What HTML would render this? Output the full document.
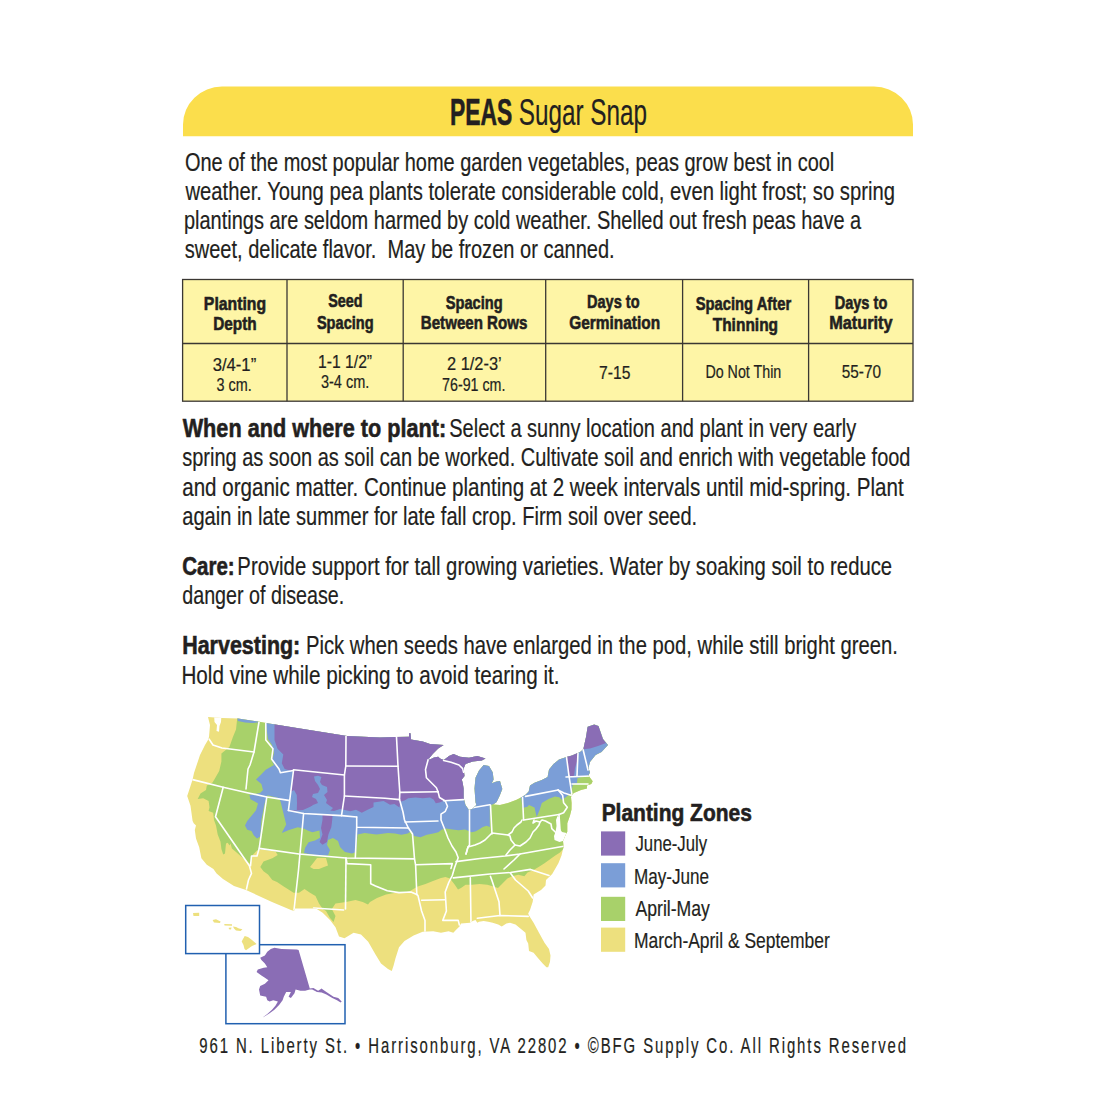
<!DOCTYPE html>
<html><head><meta charset="utf-8"><title>Peas Sugar Snap</title>
<style>html,body{margin:0;padding:0;background:#fff;width:1100px;height:1100px;overflow:hidden}svg{display:block}text{font-family:"Liberation Sans",sans-serif}</style>
</head><body>
<svg width="1100" height="1100" viewBox="0 0 1100 1100" font-family="Liberation Sans" fill="#231F20">
<rect width="1100" height="1100" fill="#fff"/>
<path d="M183,136.3 V124.5 A39,38 0 0 1 222,86.5 H874 A39,38 0 0 1 913,124.5 V136.3 Z" fill="#FBDE4C"/>
<rect x="182.6" y="279.5" width="730.4" height="121.69999999999999" fill="#FEF5A6" stroke="#3A3733" stroke-width="1.3"/>
<line x1="182.6" y1="343.5" x2="913.0" y2="343.5" stroke="#3A3733" stroke-width="1.3"/>
<line x1="287.0" y1="279.5" x2="287.0" y2="401.2" stroke="#3A3733" stroke-width="1.3"/>
<line x1="403.2" y1="279.5" x2="403.2" y2="401.2" stroke="#3A3733" stroke-width="1.3"/>
<line x1="545.7" y1="279.5" x2="545.7" y2="401.2" stroke="#3A3733" stroke-width="1.3"/>
<line x1="682.6" y1="279.5" x2="682.6" y2="401.2" stroke="#3A3733" stroke-width="1.3"/>
<line x1="808.6" y1="279.5" x2="808.6" y2="401.2" stroke="#3A3733" stroke-width="1.3"/>
<clipPath id="us"><polygon points="208.0,717.0 222.0,718.0 238.0,718.6 258.0,721.5 266.0,723.0 300.0,728.5 347.0,736.0 380.0,737.5 396.0,737.0 409.0,736.8 409.0,733.2 410.5,733.2 411.0,739.5 422.7,741.4 430.0,744.0 443.6,745.0 438.2,748.6 432.7,754.0 428.2,759.5 430.0,759.5 434.0,757.5 438.2,756.8 440.0,758.5 443.6,760.0 444.5,759.5 449.0,756.0 453.6,754.0 460.0,756.8 469.0,757.7 477.3,756.0 485.5,758.6 481.8,760.5 472.7,761.4 465.5,764.0 463.6,768.6 464.5,776.0 461.8,779.5 462.7,783.0 463.6,788.6 463.6,797.7 465.5,805.0 469.0,810.0 472.0,809.0 476.4,805.0 475.5,802.3 474.5,788.6 475.5,777.7 479.0,770.5 483.6,765.0 489.0,766.0 492.7,772.3 493.6,779.5 491.8,783.2 496.4,781.4 500.0,781.0 502.3,789.0 499.8,795.6 496.5,802.2 493.3,804.6 500.0,805.0 508.0,803.0 516.0,800.0 521.5,797.3 525.8,794.4 528.7,791.5 530.0,785.6 534.5,782.7 541.8,780.0 547.6,777.0 549.0,769.6 553.5,764.0 559.0,759.5 566.5,757.0 572.0,755.5 580.0,752.0 583.3,749.3 586.2,736.2 587.6,726.7 594.2,724.5 598.5,726.0 603.0,739.0 608.0,745.0 601.5,752.0 595.6,755.0 590.0,762.0 588.4,768.0 590.0,772.5 588.4,775.5 592.7,781.3 591.3,784.0 587.0,785.6 587.0,788.5 581.0,790.0 573.8,793.0 572.4,794.4 571.0,797.0 571.6,803.0 571.5,809.5 570.0,815.5 567.3,823.2 567.3,831.8 566.0,834.0 563.0,841.0 563.6,846.7 561.5,855.5 558.4,863.2 552.2,874.0 546.0,880.0 545.5,885.5 541.0,890.0 533.6,894.5 532.7,901.8 530.0,910.0 528.2,913.6 529.0,915.5 533.6,922.7 539.0,932.7 544.5,942.7 549.0,949.0 550.5,955.5 550.0,961.8 548.2,967.3 546.4,967.3 542.7,963.6 537.3,957.3 533.6,952.7 529.0,951.0 528.2,943.6 526.4,940.0 525.5,932.7 521.0,929.0 515.5,924.5 510.0,922.7 506.4,923.6 501.8,926.4 498.2,924.5 492.7,922.7 488.2,921.8 483.6,921.0 479.0,921.8 477.3,922.7 475.5,920.0 472.7,921.0 470.0,922.7 461.0,923.5 459.5,926.6 456.4,929.6 453.3,932.7 448.6,931.2 441.0,932.7 433.2,931.2 422.7,931.8 413.6,935.5 404.5,941.0 399.0,947.3 395.5,958.2 393.6,965.5 391.8,971.0 388.0,969.0 381.0,963.6 375.5,954.5 368.2,941.8 361.0,934.5 353.6,932.7 344.5,938.2 339.0,936.4 335.5,927.3 330.0,920.0 322.7,912.7 316.0,908.5 295.0,908.5 294.0,911.0 291.0,910.0 272.0,902.0 246.0,890.0 234.0,886.0 223.0,879.0 216.6,873.4 213.4,869.0 206.8,864.7 201.4,858.2 199.2,847.3 196.0,838.5 194.8,830.0 196.0,825.5 193.7,823.3 192.6,821.0 190.5,805.8 187.2,796.0 188.3,792.7 192.6,779.6 194.0,773.0 200.0,755.0 205.0,745.0 208.0,740.0 209.0,737.0 210.0,725.0"/></clipPath>
<polygon points="208.0,717.0 222.0,718.0 238.0,718.6 258.0,721.5 266.0,723.0 300.0,728.5 347.0,736.0 380.0,737.5 396.0,737.0 409.0,736.8 409.0,733.2 410.5,733.2 411.0,739.5 422.7,741.4 430.0,744.0 443.6,745.0 438.2,748.6 432.7,754.0 428.2,759.5 430.0,759.5 434.0,757.5 438.2,756.8 440.0,758.5 443.6,760.0 444.5,759.5 449.0,756.0 453.6,754.0 460.0,756.8 469.0,757.7 477.3,756.0 485.5,758.6 481.8,760.5 472.7,761.4 465.5,764.0 463.6,768.6 464.5,776.0 461.8,779.5 462.7,783.0 463.6,788.6 463.6,797.7 465.5,805.0 469.0,810.0 472.0,809.0 476.4,805.0 475.5,802.3 474.5,788.6 475.5,777.7 479.0,770.5 483.6,765.0 489.0,766.0 492.7,772.3 493.6,779.5 491.8,783.2 496.4,781.4 500.0,781.0 502.3,789.0 499.8,795.6 496.5,802.2 493.3,804.6 500.0,805.0 508.0,803.0 516.0,800.0 521.5,797.3 525.8,794.4 528.7,791.5 530.0,785.6 534.5,782.7 541.8,780.0 547.6,777.0 549.0,769.6 553.5,764.0 559.0,759.5 566.5,757.0 572.0,755.5 580.0,752.0 583.3,749.3 586.2,736.2 587.6,726.7 594.2,724.5 598.5,726.0 603.0,739.0 608.0,745.0 601.5,752.0 595.6,755.0 590.0,762.0 588.4,768.0 590.0,772.5 588.4,775.5 592.7,781.3 591.3,784.0 587.0,785.6 587.0,788.5 581.0,790.0 573.8,793.0 572.4,794.4 571.0,797.0 571.6,803.0 571.5,809.5 570.0,815.5 567.3,823.2 567.3,831.8 566.0,834.0 563.0,841.0 563.6,846.7 561.5,855.5 558.4,863.2 552.2,874.0 546.0,880.0 545.5,885.5 541.0,890.0 533.6,894.5 532.7,901.8 530.0,910.0 528.2,913.6 529.0,915.5 533.6,922.7 539.0,932.7 544.5,942.7 549.0,949.0 550.5,955.5 550.0,961.8 548.2,967.3 546.4,967.3 542.7,963.6 537.3,957.3 533.6,952.7 529.0,951.0 528.2,943.6 526.4,940.0 525.5,932.7 521.0,929.0 515.5,924.5 510.0,922.7 506.4,923.6 501.8,926.4 498.2,924.5 492.7,922.7 488.2,921.8 483.6,921.0 479.0,921.8 477.3,922.7 475.5,920.0 472.7,921.0 470.0,922.7 461.0,923.5 459.5,926.6 456.4,929.6 453.3,932.7 448.6,931.2 441.0,932.7 433.2,931.2 422.7,931.8 413.6,935.5 404.5,941.0 399.0,947.3 395.5,958.2 393.6,965.5 391.8,971.0 388.0,969.0 381.0,963.6 375.5,954.5 368.2,941.8 361.0,934.5 353.6,932.7 344.5,938.2 339.0,936.4 335.5,927.3 330.0,920.0 322.7,912.7 316.0,908.5 295.0,908.5 294.0,911.0 291.0,910.0 272.0,902.0 246.0,890.0 234.0,886.0 223.0,879.0 216.6,873.4 213.4,869.0 206.8,864.7 201.4,858.2 199.2,847.3 196.0,838.5 194.8,830.0 196.0,825.5 193.7,823.3 192.6,821.0 190.5,805.8 187.2,796.0 188.3,792.7 192.6,779.6 194.0,773.0 200.0,755.0 205.0,745.0 208.0,740.0 209.0,737.0 210.0,725.0" fill="#EDE07E"/>
<g clip-path="url(#us)">
<polygon points="237.4,700.0 237.4,716.5 236.0,729.5 233.0,736.8 229.4,747.0 221.4,753.5 221.4,761.5 219.2,771.0 215.5,777.5 212.6,782.6 208.3,784.8 206.8,785.5 206.0,790.0 200.5,793.6 197.7,799.0 203.2,798.2 208.6,801.0 209.5,807.3 208.6,811.0 213.2,812.7 214.0,820.0 216.0,825.5 217.7,834.5 220.5,841.8 221.4,849.0 223.2,854.5 225.0,853.6 226.0,843.6 227.7,842.7 229.5,845.5 230.5,843.6 231.9,848.4 249.4,863.6 250.5,863.6 252.6,855.0 257.0,850.5 261.4,849.5 268.0,850.5 275.5,851.6 277.7,855.0 272.3,858.2 263.5,861.5 260.3,867.0 263.5,871.3 268.0,874.5 272.3,880.0 277.0,882.0 284.5,887.0 293.6,892.7 299.0,892.7 304.5,889.0 310.0,892.7 315.5,896.0 319.0,903.6 322.7,909.0 326.0,911.0 330.0,918.0 333.6,922.0 335.5,916.0 331.8,909.0 335.5,903.6 341.0,902.7 346.0,902.0 355.5,900.0 362.7,902.0 368.0,904.5 370.0,902.0 377.0,898.0 386.0,894.5 395.5,892.7 404.5,892.7 410.0,891.0 417.7,886.4 425.5,884.0 433.0,881.0 441.0,877.9 445.5,877.0 450.0,878.6 454.8,884.8 458.0,889.5 461.0,888.0 465.6,884.8 471.8,884.8 479.6,884.0 487.3,884.8 493.5,886.4 498.0,888.0 502.7,883.3 507.4,878.6 512.0,876.3 518.2,874.8 524.4,876.3 527.5,872.5 533.6,870.0 539.8,866.3 544.5,863.2 549.0,860.0 555.3,855.5 560.0,852.4 563.0,849.3 566.0,847.7 580.0,845.0 640.0,845.0 640.0,700.0" fill="#A8D16A"/>
<polygon points="310.0,867.0 314.0,862.0 317.0,858.0 326.0,858.0 328.0,865.5 324.0,867.0 319.0,869.0 313.6,869.0" fill="#EDE07E"/>
<polygon points="266.0,700.0 266.0,725.0 268.0,739.0 272.0,745.0 274.0,753.0 272.0,761.0 274.0,765.0 265.7,769.8 261.4,774.2 256.0,779.6 261.4,784.0 263.0,790.0 260.0,793.0 249.4,795.0 250.5,799.3 254.8,801.5 258.0,803.6 256.0,810.2 252.6,814.5 247.2,821.0 245.0,825.5 247.2,829.8 251.5,831.0 253.7,835.3 257.0,838.5 260.3,836.4 261.4,820.0 264.6,803.6 267.3,795.3 279.0,798.2 280.4,801.0 283.3,812.7 286.2,824.4 283.3,830.0 281.8,833.0 289.0,830.0 297.8,827.3 303.6,828.6 307.7,830.5 312.3,832.3 319.5,830.5 320.0,837.7 315.0,840.5 308.6,842.3 305.0,848.0 304.0,853.0 315.0,855.0 328.0,855.5 330.0,850.0 327.0,845.0 328.0,840.0 333.0,838.0 338.0,841.0 340.0,847.0 345.0,852.0 352.0,853.5 356.0,852.0 357.0,842.0 357.5,834.5 364.7,833.0 376.4,834.5 388.0,833.0 395.0,833.5 401.4,834.7 407.7,833.5 411.5,831.0 414.0,836.0 420.5,837.3 426.8,834.7 433.2,833.5 438.3,832.2 442.0,829.6 446.0,828.4 452.3,829.6 458.6,830.3 465.0,829.6 468.8,831.0 471.4,832.2 475.2,831.5 479.0,829.6 482.8,827.0 486.6,825.8 489.8,827.0 489.8,805.5 496.0,803.0 505.0,795.0 518.0,794.0 521.5,799.0 522.3,808.0 527.4,806.7 529.0,805.0 534.5,807.5 536.7,817.0 539.6,810.0 541.8,803.0 549.0,798.7 555.0,796.5 559.3,797.3 562.0,800.0 566.0,797.0 571.0,793.0 573.0,784.0 577.0,783.0 577.5,778.0 590.0,775.0 640.0,775.0 640.0,700.0" fill="#7B9ED7"/>
<polygon points="236.0,712.0 238.0,721.0 245.0,722.5 252.0,723.0 258.0,722.5 258.0,712.0" fill="#7B9ED7"/>
<polygon points="274.5,700.0 274.5,740.0 277.5,748.7 283.3,754.5 281.8,763.3 284.7,769.0 292.0,771.3 293.5,771.0 291.0,790.0 289.0,805.0 290.0,811.0 303.0,810.0 312.0,806.0 318.0,808.0 326.0,810.0 334.0,811.0 340.0,809.0 343.6,809.8 350.2,811.3 356.0,809.8 361.8,812.7 367.6,809.8 373.5,807.0 373.5,802.5 383.6,801.0 390.0,804.7 394.4,804.0 399.5,807.6 400.2,801.8 404.5,800.4 408.2,798.2 415.5,797.5 422.7,798.2 430.0,797.5 433.6,799.6 435.8,803.3 439.5,802.5 443.8,800.7 463.7,799.6 468.0,790.0 468.0,768.0 478.0,763.5 495.0,761.0 495.0,700.0" fill="#8A6DB5"/>
<polygon points="290.5,792.0 294.0,790.0 296.8,795.0 297.0,803.0 296.8,810.0 288.0,810.5 289.5,800.0" fill="#7B9ED7"/>
<polygon points="314.0,776.5 318.0,775.8 321.4,777.0 320.0,782.0 322.0,785.0 327.0,787.0 327.5,792.0 324.0,795.0 327.0,800.0 326.0,803.0 330.0,806.0 333.0,808.0 330.0,811.0 325.0,810.0 320.0,813.0 312.0,812.0 308.0,809.0 313.0,805.0 318.0,803.0 316.0,799.0 312.0,797.0 313.0,794.0 318.0,793.0 320.0,789.0 318.0,785.0 315.0,781.0" fill="#7B9ED7"/>
<polygon points="322.5,814.0 332.7,814.0 332.0,822.0 331.3,827.3 328.4,834.5 327.0,842.0 322.5,844.7 319.6,842.0 322.5,834.5 321.0,828.0 322.5,820.0" fill="#8A6DB5"/>
<polygon points="566.5,756.0 571.0,754.5 578.0,752.4 577.5,760.0 575.0,768.0 574.0,776.0 569.0,777.0 568.0,770.0 566.5,762.0" fill="#8A6DB5"/>
<polygon points="583.0,749.3 585.0,735.0 587.6,726.7 594.2,724.5 598.5,726.0 603.0,739.0 606.0,743.0 598.0,746.0 590.0,748.5" fill="#8A6DB5"/>
<polygon points="214.0,714.0 221.5,714.0 221.0,722.0 219.5,726.0 219.0,731.7 216.5,731.0 217.0,725.0 214.5,722.0" fill="#fff"/>
<polygon points="557.5,816.0 559.5,818.0 559.0,824.0 560.0,829.0 562.0,832.0 566.5,833.0 566.0,840.0 559.5,842.0 554.5,840.0 554.0,836.0 555.5,832.0 556.5,826.0 556.0,820.0" fill="#fff"/>
<polyline points="209.0,739.0 213.0,745.0 222.0,748.0 254.0,752.0 250.0,765.0 248.0,769.0 246.0,789.0" fill="none" stroke="#fff" stroke-width="1.6" stroke-linejoin="round" stroke-linecap="round"/>
<polyline points="259.0,722.0 256.0,740.0 254.0,752.0" fill="none" stroke="#fff" stroke-width="1.6" stroke-linejoin="round" stroke-linecap="round"/>
<polyline points="265.8,723.0 265.8,740.0 273.0,748.7 271.6,759.0 279.0,769.0 280.4,772.7 293.5,770.5" fill="none" stroke="#fff" stroke-width="1.6" stroke-linejoin="round" stroke-linecap="round"/>
<polyline points="293.5,770.5 288.4,810.5" fill="none" stroke="#fff" stroke-width="1.6" stroke-linejoin="round" stroke-linecap="round"/>
<polyline points="192.6,779.6 223.2,787.3 245.0,792.2 266.8,797.0 288.6,800.4" fill="none" stroke="#fff" stroke-width="1.6" stroke-linejoin="round" stroke-linecap="round"/>
<polyline points="223.2,787.3 215.5,816.7 249.4,865.8 251.5,873.4 248.5,880.0 246.5,889.0" fill="none" stroke="#fff" stroke-width="1.6" stroke-linejoin="round" stroke-linecap="round"/>
<polyline points="266.8,797.0 259.2,848.4 257.0,856.0 251.5,856.0 250.5,865.8" fill="none" stroke="#fff" stroke-width="1.6" stroke-linejoin="round" stroke-linecap="round"/>
<polyline points="259.2,848.4 299.0,854.0 346.0,858.0 414.5,858.9" fill="none" stroke="#fff" stroke-width="1.6" stroke-linejoin="round" stroke-linecap="round"/>
<polyline points="303.6,813.5 298.5,870.0 294.0,910.0" fill="none" stroke="#fff" stroke-width="1.6" stroke-linejoin="round" stroke-linecap="round"/>
<polyline points="288.4,810.5 303.6,813.5 341.5,815.6 356.7,817.0" fill="none" stroke="#fff" stroke-width="1.6" stroke-linejoin="round" stroke-linecap="round"/>
<polyline points="293.5,769.8 344.4,775.0" fill="none" stroke="#fff" stroke-width="1.6" stroke-linejoin="round" stroke-linecap="round"/>
<polyline points="346.0,736.0 345.8,766.0 344.4,775.0 344.4,796.0 341.5,815.6" fill="none" stroke="#fff" stroke-width="1.6" stroke-linejoin="round" stroke-linecap="round"/>
<polyline points="345.8,766.0 398.0,766.3" fill="none" stroke="#fff" stroke-width="1.6" stroke-linejoin="round" stroke-linecap="round"/>
<polyline points="344.4,796.0 385.0,798.2 399.5,799.6" fill="none" stroke="#fff" stroke-width="1.6" stroke-linejoin="round" stroke-linecap="round"/>
<polyline points="396.5,737.0 398.0,766.0 399.8,792.4" fill="none" stroke="#fff" stroke-width="1.6" stroke-linejoin="round" stroke-linecap="round"/>
<polyline points="399.8,792.4 438.0,791.8" fill="none" stroke="#fff" stroke-width="1.6" stroke-linejoin="round" stroke-linecap="round"/>
<polyline points="356.7,817.0 356.7,827.3 408.4,828.0" fill="none" stroke="#fff" stroke-width="1.6" stroke-linejoin="round" stroke-linecap="round"/>
<polyline points="356.7,827.3 355.3,858.0" fill="none" stroke="#fff" stroke-width="1.6" stroke-linejoin="round" stroke-linecap="round"/>
<polyline points="399.8,792.4 399.5,799.6 400.5,803.0 403.0,812.0 404.5,820.0 408.4,828.0" fill="none" stroke="#fff" stroke-width="1.6" stroke-linejoin="round" stroke-linecap="round"/>
<polyline points="408.4,828.0 412.5,834.0 414.5,858.9 415.6,864.8 416.8,894.4" fill="none" stroke="#fff" stroke-width="1.6" stroke-linejoin="round" stroke-linecap="round"/>
<polyline points="405.0,822.0 438.0,821.0" fill="none" stroke="#fff" stroke-width="1.6" stroke-linejoin="round" stroke-linecap="round"/>
<polyline points="438.0,791.6 439.5,797.5 445.3,801.0 447.5,806.2 445.3,811.3 441.0,814.2 441.0,820.0 445.0,830.0 448.0,838.0 452.0,846.0 456.0,852.0 458.2,857.7 454.7,867.2 452.3,875.5 448.7,882.6 445.2,892.0 445.8,901.5 446.4,911.0 442.8,920.4 458.2,920.4 459.4,925.0" fill="none" stroke="#fff" stroke-width="1.6" stroke-linejoin="round" stroke-linecap="round"/>
<polyline points="443.8,800.7 463.5,799.6" fill="none" stroke="#fff" stroke-width="1.6" stroke-linejoin="round" stroke-linecap="round"/>
<polyline points="428.2,759.5 425.5,769.5 426.4,777.7 436.4,787.7 438.2,792.3" fill="none" stroke="#fff" stroke-width="1.6" stroke-linejoin="round" stroke-linecap="round"/>
<polyline points="443.6,760.5 451.0,762.3 459.0,765.0 462.7,768.6 463.6,772.3" fill="none" stroke="#fff" stroke-width="1.6" stroke-linejoin="round" stroke-linecap="round"/>
<polyline points="471.0,808.0 489.8,804.8" fill="none" stroke="#fff" stroke-width="1.6" stroke-linejoin="round" stroke-linecap="round"/>
<polyline points="415.6,864.8 452.3,863.6 451.0,868.4" fill="none" stroke="#fff" stroke-width="1.6" stroke-linejoin="round" stroke-linecap="round"/>
<polyline points="416.8,894.4 418.0,895.6 421.6,911.0 425.0,920.4 425.0,932.0" fill="none" stroke="#fff" stroke-width="1.6" stroke-linejoin="round" stroke-linecap="round"/>
<polyline points="346.0,858.0 347.0,863.6 370.7,864.8 370.7,883.7 375.5,886.0 387.3,890.8 399.0,892.6 411.0,892.0 416.8,894.4" fill="none" stroke="#fff" stroke-width="1.6" stroke-linejoin="round" stroke-linecap="round"/>
<polyline points="346.0,858.0 345.5,909.0" fill="none" stroke="#fff" stroke-width="1.6" stroke-linejoin="round" stroke-linecap="round"/>
<polyline points="313.6,908.0 343.6,910.0" fill="none" stroke="#fff" stroke-width="1.6" stroke-linejoin="round" stroke-linecap="round"/>
<polyline points="453.3,877.9 490.0,874.0 510.5,872.5 530.5,869.4 549.0,875.5" fill="none" stroke="#fff" stroke-width="1.6" stroke-linejoin="round" stroke-linecap="round"/>
<polyline points="470.3,877.9 471.0,923.5" fill="none" stroke="#fff" stroke-width="1.6" stroke-linejoin="round" stroke-linecap="round"/>
<polyline points="490.4,876.3 491.8,880.0 499.0,901.8 500.0,915.5" fill="none" stroke="#fff" stroke-width="1.6" stroke-linejoin="round" stroke-linecap="round"/>
<polyline points="477.3,918.2 500.0,915.5 528.2,916.4" fill="none" stroke="#fff" stroke-width="1.6" stroke-linejoin="round" stroke-linecap="round"/>
<polyline points="510.5,873.2 515.5,880.0 528.2,891.0 532.7,898.0" fill="none" stroke="#fff" stroke-width="1.6" stroke-linejoin="round" stroke-linecap="round"/>
<polyline points="421.6,900.3 445.2,899.7" fill="none" stroke="#fff" stroke-width="1.6" stroke-linejoin="round" stroke-linecap="round"/>
<polyline points="566.5,757.0 569.0,776.0" fill="none" stroke="#fff" stroke-width="1.6" stroke-linejoin="round" stroke-linecap="round"/>
<polyline points="566.0,777.0 591.0,776.0" fill="none" stroke="#fff" stroke-width="1.6" stroke-linejoin="round" stroke-linecap="round"/>
<polyline points="572.0,784.0 588.0,784.0" fill="none" stroke="#fff" stroke-width="1.6" stroke-linejoin="round" stroke-linecap="round"/>
<polyline points="578.0,752.4 577.0,776.0" fill="none" stroke="#fff" stroke-width="1.6" stroke-linejoin="round" stroke-linecap="round"/>
<polyline points="583.0,749.3 588.0,770.0" fill="none" stroke="#fff" stroke-width="1.6" stroke-linejoin="round" stroke-linecap="round"/>
<polyline points="569.0,776.0 572.0,795.0" fill="none" stroke="#fff" stroke-width="1.6" stroke-linejoin="round" stroke-linecap="round"/>
<polyline points="557.9,790.0 564.0,793.0 571.8,795.6" fill="none" stroke="#fff" stroke-width="1.6" stroke-linejoin="round" stroke-linecap="round"/>
<polyline points="558.2,790.0 562.7,795.5 563.6,802.7 567.3,807.3 563.6,812.7 559.0,814.5" fill="none" stroke="#fff" stroke-width="1.6" stroke-linejoin="round" stroke-linecap="round"/>
<polyline points="525.5,796.4 558.2,790.0" fill="none" stroke="#fff" stroke-width="1.6" stroke-linejoin="round" stroke-linecap="round"/>
<polyline points="469.5,805.0 469.5,845.0 468.0,847.0 466.0,854.0" fill="none" stroke="#fff" stroke-width="1.6" stroke-linejoin="round" stroke-linecap="round"/>
<polyline points="490.5,805.0 492.0,834.0" fill="none" stroke="#fff" stroke-width="1.6" stroke-linejoin="round" stroke-linecap="round"/>
<polyline points="466.0,854.0 468.0,847.0 475.0,845.0 480.0,843.0 485.0,840.0 489.0,836.0 492.0,833.0 500.0,834.0 508.0,835.0 512.0,832.0 514.0,828.0 517.0,825.0 521.0,822.0 522.0,820.0" fill="none" stroke="#fff" stroke-width="1.6" stroke-linejoin="round" stroke-linecap="round"/>
<polyline points="522.5,797.0 523.6,820.0" fill="none" stroke="#fff" stroke-width="1.6" stroke-linejoin="round" stroke-linecap="round"/>
<polyline points="523.6,820.0 559.0,814.5" fill="none" stroke="#fff" stroke-width="1.6" stroke-linejoin="round" stroke-linecap="round"/>
<polyline points="508.0,835.0 510.0,836.0 511.0,840.0 515.0,845.0 520.0,846.0 526.0,842.0 530.0,838.0 533.0,832.0 536.0,829.0 539.0,825.0 540.0,822.0 536.0,821.0 533.0,823.0 534.0,820.0" fill="none" stroke="#fff" stroke-width="1.6" stroke-linejoin="round" stroke-linecap="round"/>
<polyline points="540.0,822.0 542.0,820.0 545.5,821.0 551.0,824.0 551.8,828.6 555.5,832.3" fill="none" stroke="#fff" stroke-width="1.6" stroke-linejoin="round" stroke-linecap="round"/>
<polyline points="515.0,845.0 510.0,850.0 506.0,855.0" fill="none" stroke="#fff" stroke-width="1.6" stroke-linejoin="round" stroke-linecap="round"/>
<polyline points="456.0,861.6 480.0,858.5 505.0,856.0 520.0,854.0 565.0,846.0" fill="none" stroke="#fff" stroke-width="1.6" stroke-linejoin="round" stroke-linecap="round"/>
<polyline points="520.0,854.0 514.0,860.0 504.0,869.0" fill="none" stroke="#fff" stroke-width="1.6" stroke-linejoin="round" stroke-linecap="round"/>
<polyline points="559.0,815.0 560.0,830.0" fill="none" stroke="#fff" stroke-width="1.6" stroke-linejoin="round" stroke-linecap="round"/>
</g>
<rect x="225.9" y="944.7" width="119.1" height="79" fill="#fff" stroke="#2160B0" stroke-width="1.5"/>
<polygon points="274.4,947.7 281.5,948.9 296.8,949.5 298.6,950.0 309.8,988.5 313.4,987.9 318.1,990.8 321.7,988.5 322.8,989.6 326.4,992.0 333.5,996.7 338.2,998.0 341.7,1001.5 340.6,1002.6 337.0,1000.3 332.3,998.0 326.4,994.4 321.7,992.6 317.0,992.0 312.2,989.6 309.8,989.6 305.1,990.8 300.4,990.8 295.6,989.6 294.5,993.2 290.9,997.9 288.6,996.7 290.9,992.0 286.2,992.0 283.8,996.7 282.6,1000.3 279.1,1005.0 274.4,1009.7 269.6,1013.3 264.9,1016.2 262.6,1017.4 267.3,1013.9 272.0,1009.7 275.6,1005.6 277.9,1001.5 273.2,1000.3 269.6,1001.5 267.3,1000.3 266.1,996.7 260.2,995.6 259.0,989.6 260.2,986.1 264.9,983.7 268.5,980.2 264.9,977.8 261.4,975.5 256.6,971.9 257.8,969.6 263.7,967.8 267.3,967.2 264.9,963.6 261.4,960.1 260.2,957.7 264.9,955.4 267.3,951.8 270.8,948.9" fill="#8A6DB5"/>
<rect x="185.7" y="905.5" width="73.8" height="48.1" fill="#fff" stroke="#2160B0" stroke-width="1.5"/>
<polygon points="193.0,913.0 199.2,912.7 199.2,916.0 193.5,916.0" fill="#EDE07E"/>
<polygon points="212.6,920.0 216.0,919.3 220.6,921.5 220.0,923.0 214.0,922.5" fill="#EDE07E"/>
<polygon points="224.3,924.0 232.0,924.2 232.0,925.8 224.5,925.6" fill="#EDE07E"/>
<polygon points="228.6,927.8 231.5,927.6 231.0,929.5 229.0,929.3" fill="#EDE07E"/>
<polygon points="233.0,926.5 236.0,927.0 239.0,928.5 242.5,929.3 240.5,931.0 236.0,930.5 234.0,928.5" fill="#EDE07E"/>
<polygon points="244.7,936.0 248.0,937.0 252.0,940.0 256.6,944.0 252.0,946.0 246.0,950.2 244.5,949.0 243.5,945.0 241.7,941.5 243.0,939.0" fill="#EDE07E"/>
<rect x="601" y="831.4" width="24.2" height="24.2" fill="#8A6DB5"/>
<rect x="601" y="863.2" width="24.2" height="24.2" fill="#7B9ED7"/>
<rect x="601" y="896.8" width="24.2" height="24.2" fill="#A8D16A"/>
<rect x="601" y="927.6" width="24.2" height="24.2" fill="#EDE07E"/>
<text x="449.96" y="124.70" font-size="37" font-weight="bold" stroke="#231F20" stroke-width="0.6" textLength="62.31" lengthAdjust="spacingAndGlyphs" xml:space="preserve">PEAS</text>
<text x="518.69" y="124.70" font-size="37" stroke="#231F20" stroke-width="0.2" textLength="128.26" lengthAdjust="spacingAndGlyphs" xml:space="preserve">Sugar Snap</text>
<text x="184.94" y="170.80" font-size="26.3" stroke="#231F20" stroke-width="0.2" textLength="649.36" lengthAdjust="spacingAndGlyphs" xml:space="preserve">One of the most popular home garden vegetables, peas grow best in cool</text>
<text x="185.50" y="199.60" font-size="26.3" stroke="#231F20" stroke-width="0.2" textLength="709.43" lengthAdjust="spacingAndGlyphs" xml:space="preserve">weather. Young pea plants tolerate considerable cold, even light frost; so spring</text>
<text x="183.98" y="229.00" font-size="26.3" stroke="#231F20" stroke-width="0.2" textLength="677.21" lengthAdjust="spacingAndGlyphs" xml:space="preserve">plantings are seldom harmed by cold weather. Shelled out fresh peas have a</text>
<text x="184.74" y="257.80" font-size="26.3" stroke="#231F20" stroke-width="0.2" textLength="429.96" lengthAdjust="spacingAndGlyphs" xml:space="preserve">sweet, delicate flavor.  May be frozen or canned.</text>
<text x="203.87" y="309.60" font-size="19.0" font-weight="bold" stroke="#231F20" stroke-width="0.6" textLength="62.22" lengthAdjust="spacingAndGlyphs" xml:space="preserve">Planting</text>
<text x="213.19" y="330.40" font-size="19.0" font-weight="bold" stroke="#231F20" stroke-width="0.6" textLength="43.48" lengthAdjust="spacingAndGlyphs" xml:space="preserve">Depth</text>
<text x="328.30" y="307.40" font-size="19.0" font-weight="bold" stroke="#231F20" stroke-width="0.6" textLength="34.32" lengthAdjust="spacingAndGlyphs" xml:space="preserve">Seed</text>
<text x="316.90" y="328.60" font-size="19.0" font-weight="bold" stroke="#231F20" stroke-width="0.6" textLength="56.70" lengthAdjust="spacingAndGlyphs" xml:space="preserve">Spacing</text>
<text x="445.70" y="308.60" font-size="19.0" font-weight="bold" stroke="#231F20" stroke-width="0.6" textLength="57.00" lengthAdjust="spacingAndGlyphs" xml:space="preserve">Spacing</text>
<text x="420.81" y="329.20" font-size="19.0" font-weight="bold" stroke="#231F20" stroke-width="0.6" textLength="106.57" lengthAdjust="spacingAndGlyphs" xml:space="preserve">Between Rows</text>
<text x="587.03" y="307.60" font-size="19.0" font-weight="bold" stroke="#231F20" stroke-width="0.6" textLength="52.56" lengthAdjust="spacingAndGlyphs" xml:space="preserve">Days to</text>
<text x="569.20" y="328.70" font-size="19.0" font-weight="bold" stroke="#231F20" stroke-width="0.6" textLength="90.94" lengthAdjust="spacingAndGlyphs" xml:space="preserve">Germination</text>
<text x="695.70" y="310.30" font-size="19.0" font-weight="bold" stroke="#231F20" stroke-width="0.6" textLength="95.47" lengthAdjust="spacingAndGlyphs" xml:space="preserve">Spacing After</text>
<text x="712.70" y="330.60" font-size="19.0" font-weight="bold" stroke="#231F20" stroke-width="0.6" textLength="65.38" lengthAdjust="spacingAndGlyphs" xml:space="preserve">Thinning</text>
<text x="834.63" y="308.80" font-size="19.0" font-weight="bold" stroke="#231F20" stroke-width="0.6" textLength="52.66" lengthAdjust="spacingAndGlyphs" xml:space="preserve">Days to</text>
<text x="829.24" y="329.10" font-size="19.0" font-weight="bold" stroke="#231F20" stroke-width="0.6" textLength="63.38" lengthAdjust="spacingAndGlyphs" xml:space="preserve">Maturity</text>
<text x="212.65" y="370.50" font-size="17.5" stroke="#231F20" stroke-width="0.2" textLength="43.54" lengthAdjust="spacingAndGlyphs" xml:space="preserve">3/4-1”</text>
<text x="216.48" y="390.50" font-size="17.5" stroke="#231F20" stroke-width="0.2" textLength="35.18" lengthAdjust="spacingAndGlyphs" xml:space="preserve">3 cm.</text>
<text x="318.11" y="367.70" font-size="17.5" stroke="#231F20" stroke-width="0.2" textLength="53.97" lengthAdjust="spacingAndGlyphs" xml:space="preserve">1-1 1/2”</text>
<text x="320.97" y="388.30" font-size="17.5" stroke="#231F20" stroke-width="0.2" textLength="48.35" lengthAdjust="spacingAndGlyphs" xml:space="preserve">3-4 cm.</text>
<text x="447.06" y="369.80" font-size="17.5" stroke="#231F20" stroke-width="0.2" textLength="54.59" lengthAdjust="spacingAndGlyphs" xml:space="preserve">2 1/2-3’</text>
<text x="442.09" y="390.60" font-size="17.5" stroke="#231F20" stroke-width="0.2" textLength="63.38" lengthAdjust="spacingAndGlyphs" xml:space="preserve">76-91 cm.</text>
<text x="599.10" y="378.60" font-size="17.5" stroke="#231F20" stroke-width="0.2" textLength="31.42" lengthAdjust="spacingAndGlyphs" xml:space="preserve">7-15</text>
<text x="705.38" y="378.40" font-size="17.5" stroke="#231F20" stroke-width="0.2" textLength="75.88" lengthAdjust="spacingAndGlyphs" xml:space="preserve">Do Not Thin</text>
<text x="841.72" y="378.40" font-size="17.5" stroke="#231F20" stroke-width="0.2" textLength="39.25" lengthAdjust="spacingAndGlyphs" xml:space="preserve">55-70</text>
<text x="182.70" y="436.80" font-size="26.3" font-weight="bold" stroke="#231F20" stroke-width="0.6" textLength="263.41" lengthAdjust="spacingAndGlyphs" xml:space="preserve">When and where to plant:</text>
<text x="449.24" y="436.80" font-size="26.3" stroke="#231F20" stroke-width="0.2" textLength="407.08" lengthAdjust="spacingAndGlyphs" xml:space="preserve">Select a sunny location and plant in very early</text>
<text x="182.24" y="466.10" font-size="26.3" stroke="#231F20" stroke-width="0.2" textLength="728.23" lengthAdjust="spacingAndGlyphs" xml:space="preserve">spring as soon as soil can be worked. Cultivate soil and enrich with vegetable food</text>
<text x="182.22" y="495.50" font-size="26.3" stroke="#231F20" stroke-width="0.2" textLength="721.46" lengthAdjust="spacingAndGlyphs" xml:space="preserve">and organic matter. Continue planting at 2 week intervals until mid-spring. Plant</text>
<text x="182.24" y="524.90" font-size="26.3" stroke="#231F20" stroke-width="0.2" textLength="514.97" lengthAdjust="spacingAndGlyphs" xml:space="preserve">again in late summer for late fall crop. Firm soil over seed.</text>
<text x="182.22" y="574.50" font-size="26.3" font-weight="bold" stroke="#231F20" stroke-width="0.6" textLength="52.42" lengthAdjust="spacingAndGlyphs" xml:space="preserve">Care:</text>
<text x="237.36" y="574.50" font-size="26.3" stroke="#231F20" stroke-width="0.2" textLength="654.80" lengthAdjust="spacingAndGlyphs" xml:space="preserve">Provide support for tall growing varieties. Water by soaking soil to reduce</text>
<text x="182.25" y="603.90" font-size="26.3" stroke="#231F20" stroke-width="0.2" textLength="162.03" lengthAdjust="spacingAndGlyphs" xml:space="preserve">danger of disease.</text>
<text x="182.18" y="654.30" font-size="26.3" font-weight="bold" stroke="#231F20" stroke-width="0.6" textLength="118.08" lengthAdjust="spacingAndGlyphs" xml:space="preserve">Harvesting:</text>
<text x="305.96" y="654.30" font-size="26.3" stroke="#231F20" stroke-width="0.2" textLength="591.82" lengthAdjust="spacingAndGlyphs" xml:space="preserve">Pick when seeds have enlarged in the pod, while still bright green.</text>
<text x="181.43" y="683.60" font-size="26.3" stroke="#231F20" stroke-width="0.2" textLength="378.08" lengthAdjust="spacingAndGlyphs" xml:space="preserve">Hold vine while picking to avoid tearing it.</text>
<text x="601.63" y="821.30" font-size="24" font-weight="bold" stroke="#231F20" stroke-width="0.6" textLength="150.19" lengthAdjust="spacingAndGlyphs" xml:space="preserve">Planting Zones</text>
<text x="635.50" y="851.40" font-size="22" stroke="#231F20" stroke-width="0.2" textLength="71.62" lengthAdjust="spacingAndGlyphs" xml:space="preserve">June-July</text>
<text x="633.94" y="883.60" font-size="22" stroke="#231F20" stroke-width="0.2" textLength="75.12" lengthAdjust="spacingAndGlyphs" xml:space="preserve">May-June</text>
<text x="635.50" y="916.10" font-size="22" stroke="#231F20" stroke-width="0.2" textLength="74.42" lengthAdjust="spacingAndGlyphs" xml:space="preserve">April-May</text>
<text x="633.91" y="948.00" font-size="22" stroke="#231F20" stroke-width="0.2" textLength="195.87" lengthAdjust="spacingAndGlyphs" xml:space="preserve">March-April &amp; September</text>
<text x="199.22" y="1052.90" font-size="21.8" letter-spacing="2.8" stroke="#231F20" stroke-width="0.2" textLength="708.79" lengthAdjust="spacingAndGlyphs" xml:space="preserve">961 N. Liberty St. • Harrisonburg, VA 22802 • ©BFG Supply Co. All Rights Reserved</text>
</svg>
</body></html>
